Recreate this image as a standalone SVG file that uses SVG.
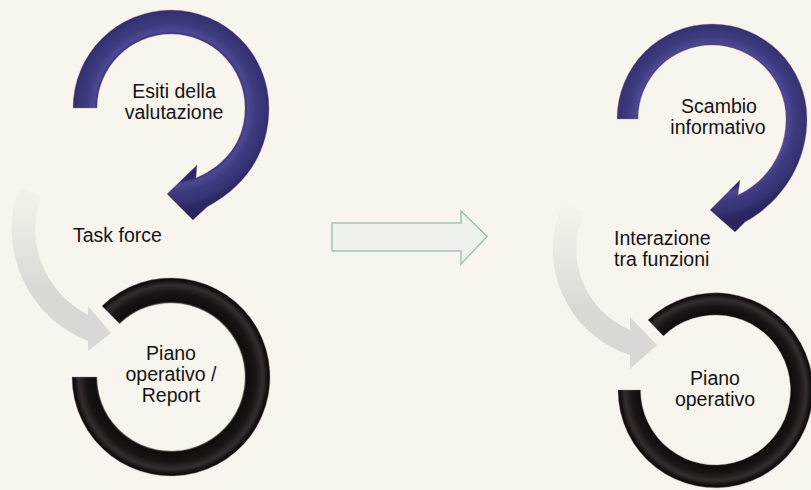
<svg xmlns="http://www.w3.org/2000/svg" width="811" height="490" viewBox="0 0 811 490">
  <style>
    .lbl { font-family: "Liberation Sans", Arial, sans-serif; font-size: 19.5px; fill: #151315; }
    .mid { text-anchor: middle; }
    .edge { stroke: #b0708f; stroke-width: 0.7; stroke-opacity: 0.55; }
  </style>
  <defs>
    <radialGradient id="blueL" gradientUnits="userSpaceOnUse" cx="171" cy="108" r="110">
      <stop offset="0.66" stop-color="#2c2966"/>
      <stop offset="0.70" stop-color="#4b4993"/>
      <stop offset="0.77" stop-color="#3d3a7e"/>
      <stop offset="0.86" stop-color="#363374"/>
      <stop offset="0.92" stop-color="#2a2762"/>
      <stop offset="1" stop-color="#29265e"/>
    </radialGradient>
    <radialGradient id="blueR" gradientUnits="userSpaceOnUse" cx="712" cy="119" r="108">
      <stop offset="0.66" stop-color="#2c2966"/>
      <stop offset="0.70" stop-color="#4b4993"/>
      <stop offset="0.77" stop-color="#3d3a7e"/>
      <stop offset="0.86" stop-color="#363374"/>
      <stop offset="0.92" stop-color="#2a2762"/>
      <stop offset="1" stop-color="#29265e"/>
    </radialGradient>
    <radialGradient id="blackL" gradientUnits="userSpaceOnUse" cx="171" cy="377" r="100">
      <stop offset="0.73" stop-color="#6d7a6c"/>
      <stop offset="0.755" stop-color="#100c0c"/>
      <stop offset="0.85" stop-color="#1a1414"/>
      <stop offset="0.92" stop-color="#352d2d"/>
      <stop offset="0.97" stop-color="#120e0e"/>
      <stop offset="1" stop-color="#0b0808"/>
    </radialGradient>
    <radialGradient id="blackR" gradientUnits="userSpaceOnUse" cx="715.5" cy="390" r="98.5">
      <stop offset="0.74" stop-color="#6d7a6c"/>
      <stop offset="0.765" stop-color="#100c0c"/>
      <stop offset="0.85" stop-color="#1a1414"/>
      <stop offset="0.92" stop-color="#352d2d"/>
      <stop offset="0.97" stop-color="#120e0e"/>
      <stop offset="1" stop-color="#0b0808"/>
    </radialGradient>
    <linearGradient id="grayL" gradientUnits="userSpaceOnUse" x1="0" y1="178" x2="0" y2="290">
      <stop offset="0" stop-color="#dedcd8" stop-opacity="0"/>
      <stop offset="1" stop-color="#dad8d4" stop-opacity="1"/>
    </linearGradient>
    <linearGradient id="grayR" gradientUnits="userSpaceOnUse" x1="0" y1="198" x2="0" y2="310">
      <stop offset="0" stop-color="#dedcd8" stop-opacity="0"/>
      <stop offset="1" stop-color="#dad8d4" stop-opacity="1"/>
    </linearGradient>
  </defs>

  <rect width="811" height="490" fill="#f8f5ee"/>

  <g id="connectors">
    <path id="gray-arrow-left" fill="url(#grayL)" d="M 19,188 A 120 120 0 0 0 88,341 L 88,351 L 111,333 L 88,306 L 88,315 A 97 97 0 0 1 41,196 Z"/>
    <path id="gray-arrow-right" fill="url(#grayR)" d="M 563,203 A 111 111 0 0 0 630,355 L 630,369 L 657,345 L 630,317 L 630,330 A 88 88 0 0 1 584,213 Z"/>
    <polygon id="transition-arrow" points="332,223 461,223 461,211 487,236.5 461,264 461,251 332,251" fill="#eff1ed" stroke="#a4c6ba" stroke-width="1.6" stroke-linejoin="miter"/>
  </g>

  <g id="node-esiti">
    <path class="edge" fill="url(#blueL)" d="M 73,108 A 98 98 0 0 1 269,108 C 269,150 248,185 207,207 L 193,220 L 167,194 L 197,165 L 196,178 C 215,170 245,150 245,108 A 74 74 0 0 0 97,108 Z"/>
    <text class="lbl mid" x="174" y="98">Esiti della</text>
    <text class="lbl mid" x="174" y="119">valutazione</text>
  </g>

  <g id="node-task-force">
    <text class="lbl" x="73" y="242">Task force</text>
  </g>

  <g id="node-piano-report">
    <path class="edge" fill="url(#blackL)" d="M 102,306 A 99 99 0 1 1 72,377 L 97,377 A 74 74 0 1 0 119.6,323.8 Z"/>
    <text class="lbl mid" x="171" y="360">Piano</text>
    <text class="lbl mid" x="171" y="381">operativo /</text>
    <text class="lbl mid" x="171" y="402">Report</text>
  </g>

  <g id="node-scambio">
    <path class="edge" fill="url(#blueR)" d="M 617,119 A 95 95 0 0 1 807,119 C 807,160 785,200 745,222 L 735,232 L 710,210 L 740,180 L 738,195 C 765,182 786,155 786,119 A 74 74 0 0 0 638,119 Z"/>
    <text class="lbl mid" x="719" y="113">Scambio</text>
    <text class="lbl mid" x="718" y="134">informativo</text>
  </g>

  <g id="node-interazione">
    <text class="lbl" x="614" y="245">Interazione</text>
    <text class="lbl" x="614" y="266">tra funzioni</text>
  </g>

  <g id="node-piano-operativo">
    <path class="edge" fill="url(#blackR)" d="M 648,320 A 97.5 97.5 0 1 1 618,390 L 640.5,390 A 75 75 0 1 0 663.4,336 Z"/>
    <text class="lbl mid" x="715" y="385">Piano</text>
    <text class="lbl mid" x="715" y="406">operativo</text>
  </g>
</svg>
